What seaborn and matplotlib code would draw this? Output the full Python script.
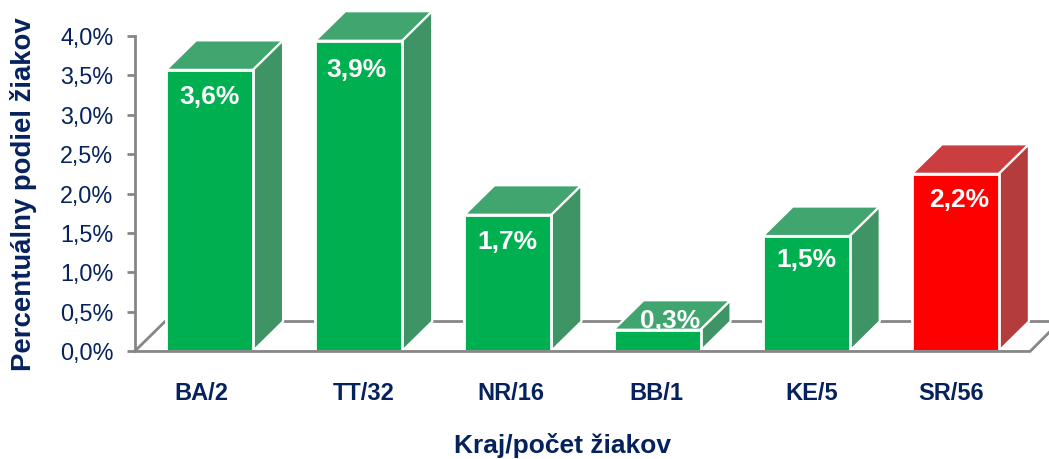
## Script name: plot.py
# Purpose: 3D style bar chart of pupil share per region

# load packages
import matplotlib
matplotlib.use("Agg")
import pandas as pd
import seaborn as sns
import matplotlib.pyplot as plt
from matplotlib.patches import Polygon
from matplotlib.transforms import ScaledTranslation

# chart data
categories = ["BA/2", "TT/32", "NR/16", "BB/1", "KE/5", "SR/56"]
bar_heights = [3.57, 3.94, 1.73, 0.27, 1.46, 2.25]  # as drawn, 3D bars sit a bit off the labels
value_labels = ["3,6%", "3,9%", "1,7%", "0,3%", "1,5%", "2,2%"]
y_ticks = [0.0, 0.5, 1.0, 1.5, 2.0, 2.5, 3.0, 3.5, 4.0]
y_tick_labels = ["0,0%", "0,5%", "1,0%", "1,5%", "2,0%", "2,5%", "3,0%", "3,5%", "4,0%"]

NAVY = "#05225F"
GREY = "#868686"
front_colors = ["#00B050"] * 5 + ["#FF0000"]
top_colors = ["#41A56F"] * 5 + ["#CB3E3F"]
side_colors = ["#3E9464"] * 5 + ["#B43C3C"]

# depth of the fake 3D box, in pixels
DEPTH_X = 30
DEPTH_Y = 29.5

sns.set_theme(style="white")
plt.rcParams['font.family'] = ['Liberation Sans', 'DejaVu Sans']

W, H = 1049, 459
fig = plt.figure(figsize=(W / 100, H / 100), dpi=100)
ax = fig.add_axes([135 / W, 1 - 351 / H, 895 / W, 315 / H])

df = pd.DataFrame({"kraj": categories, "podiel": bar_heights})
sns.barplot(data=df, x="kraj", y="podiel", hue="kraj", palette=front_colors,
            legend=False, width=0.583, saturation=1, ax=ax,
            edgecolor="white", linewidth=2)

ax.set_xlim(-0.5, 5.5)
ax.set_ylim(0, 4.0)

# pixel depth in data units
dx = DEPTH_X * 6 / 895
dy = DEPTH_Y * 4 / 315

# floor of the 3D plot, back part behind the bars, front edge over their white outline
ax.plot([-0.5, -0.5 + dx, 5.5 + 2 * dx], [0, dy, dy], color=GREY, lw=2, clip_on=False,
        zorder=0.5, solid_joinstyle="miter")
ax.plot([-0.5, 5.5, 5.5 + dx], [-0.006, -0.006, dy], color=GREY, lw=2, clip_on=False,
        zorder=4, solid_joinstyle="miter")

# top and side faces of every bar
for i, bar in enumerate(ax.patches):
    x0 = bar.get_x()
    x1 = x0 + bar.get_width()
    h = bar.get_height()
    bar.set_clip_on(False)
    bar.set_zorder(3)
    top = [(x0, h), (x1, h), (x1 + dx, h + dy), (x0 + dx, h + dy)]
    side = [(x1, 0), (x1 + dx, dy), (x1 + dx, h + dy), (x1, h)]
    ax.add_patch(Polygon(top, closed=True, facecolor=top_colors[i], edgecolor="white",
                         lw=1.6, clip_on=False, zorder=2))
    ax.add_patch(Polygon(side, closed=True, facecolor=side_colors[i], edgecolor="white",
                         lw=1.6, clip_on=False, zorder=2))

# value labels, pixel offset from the top of the front face
label_offsets = [(0, -27), (-2, -29), (0, -27), (13, 9), (0, -24), (4, -26)]
for i, bar in enumerate(ax.patches[:len(categories)]):
    ax.annotate(value_labels[i], (bar.get_x() + bar.get_width() / 2, bar_heights[i]),
                xytext=(label_offsets[i][0] * 0.72, label_offsets[i][1] * 0.72),
                textcoords="offset points", ha="center", va="center",
                color="white", fontsize=19, fontweight="bold", zorder=5,
                annotation_clip=False)

# axes
ax.set_yticks(y_ticks)
ax.set_yticklabels(y_tick_labels, fontsize=16.8, color=NAVY)
ax.tick_params(axis="y", length=5.5, width=2, color=GREY, left=True, pad=10)
ax.set_xticks(range(len(categories)))
ax.set_xticklabels(categories, fontsize=17, fontweight="bold", color=NAVY)
ax.tick_params(axis="x", length=0, pad=22)

# the category labels are not centred under the bars in the original
x_nudge = [-8, 5, 3, -1, 5, -4]
for lab, n in zip(ax.get_xticklabels(), x_nudge):
    lab.set_transform(lab.get_transform() + ScaledTranslation(n / 100, 0, fig.dpi_scale_trans))

for s in ["top", "right", "bottom"]:
    ax.spines[s].set_visible(False)
ax.spines["left"].set_color(GREY)
ax.spines["left"].set_linewidth(2)

ax.set_xlabel("")
ax.set_ylabel("")
fig.text(562 / W, 1 - 445 / H, "Kraj/počet žiakov", ha="center", va="center",
         fontsize=19, fontweight="bold", color=NAVY)
fig.text(24 / W, 1 - 194.5 / H, "Percentuálny podiel žiakov", ha="center", va="center",
         rotation=90, fontsize=19.8, fontweight="bold", color=NAVY)

fig.savefig("out.png", dpi=100)
plt.close()
